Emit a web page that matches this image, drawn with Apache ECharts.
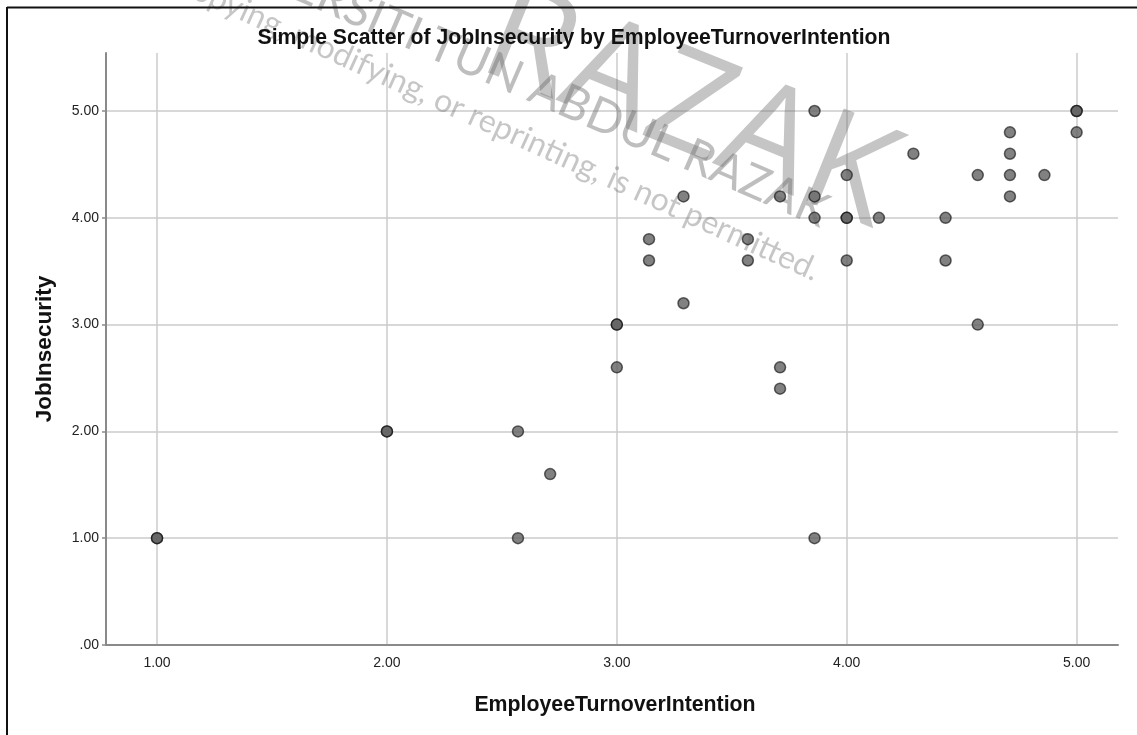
<!DOCTYPE html>
<html>
<head>
<meta charset="utf-8">
<script src="https://cdn.jsdelivr.net/npm/echarts@6/dist/echarts.min.js"></script>
<style>
  html, body { margin: 0; padding: 0; background: #ffffff; }
  #chart { width: 1137px; height: 735px; }
</style>
</head>
<body>
<div id="chart"></div>
<script>
// Scale means per respondent (x: 7-item scale, y: 5-item scale)
const turnoverIntention = [
  1.00, 1.00, 2.00, 2.00, 2.57, 2.57, 2.71, 3.00, 3.00, 3.00,
  3.14, 3.14, 3.29, 3.29, 3.57, 3.57, 3.71, 3.71, 3.71,
  3.86, 3.86, 3.86, 3.86, 4.00, 4.00, 4.00, 4.00, 4.14, 4.29,
  4.43, 4.43, 4.57, 4.57, 4.71, 4.71, 4.71, 4.71, 4.86,
  5.00, 5.00, 5.00
];
const jobInsecurity = [
  1.00, 1.00, 2.00, 2.00, 2.00, 1.00, 1.60, 3.00, 3.00, 2.60,
  3.80, 3.60, 4.20, 3.20, 3.80, 3.60, 4.20, 2.60, 2.40,
  5.00, 4.20, 4.00, 1.00, 4.40, 4.00, 4.00, 3.60, 4.00, 4.60,
  4.00, 3.60, 4.40, 3.00, 4.80, 4.60, 4.40, 4.20, 4.40,
  5.00, 5.00, 4.80
];
const xTickValues = [1, 2, 3, 4, 5];
const yTickValues = [0, 1, 2, 3, 4, 5];

const chartTitle = 'Simple Scatter of JobInsecurity by EmployeeTurnoverIntention';
const xName = 'EmployeeTurnoverIntention';
const yName = 'JobInsecurity';

const fmt = v => (v === 0 ? '.00' : v.toFixed(2));
const points = turnoverIntention.map((x, i) => [x, jobInsecurity[i]]);

const FONT = 'Arial, "Liberation Sans", sans-serif';
const axisGrey = '#8a8a8a';
const gridGrey = '#cbcbcb';
const deg = d => d * Math.PI / 180;

const chart = echarts.init(document.getElementById('chart'), null, { renderer: 'canvas' });

chart.setOption({
  backgroundColor: '#ffffff',
  animation: false,
  title: {
    text: chartTitle,
    left: 569,
    top: 23,
    textAlign: 'center',
    textStyle: { fontFamily: FONT, fontSize: 21.2, fontWeight: 'bold', color: '#111' }
  },
  grid: { left: 106, right: 19, top: 53, bottom: 90, containLabel: false, outerBoundsMode: 'none' },
  xAxis: {
    type: 'value',
    min: 0.778,
    max: 5.18,
    name: xName,
    nameLocation: 'middle',
    nameGap: 50,
    nameTextStyle: { fontFamily: FONT, fontSize: 21.3, fontWeight: 'bold', color: '#111', padding: [0, 0, 0, 6] },
    axisLine: { show: true, onZero: false, lineStyle: { color: axisGrey, width: 2 } },
    axisTick: { show: false, customValues: xTickValues },
    axisLabel: {
      customValues: xTickValues,
      formatter: fmt,
      margin: 11,
      fontFamily: FONT, fontSize: 14, color: '#222'
    },
    splitLine: { show: true, lineStyle: { color: gridGrey, width: 1.5 } }
  },
  yAxis: {
    type: 'value',
    min: 0,
    max: 5.543,
    name: yName,
    nameLocation: 'middle',
    nameGap: 50,
    nameTextStyle: { fontFamily: FONT, fontSize: 22.5, fontWeight: 'bold', color: '#111' },
    axisLine: { show: true, onZero: false, lineStyle: { color: axisGrey, width: 2 } },
    axisTick: { show: true, inside: false, length: 4, customValues: yTickValues, lineStyle: { color: axisGrey, width: 1.5 } },
    axisLabel: {
      customValues: yTickValues,
      formatter: fmt,
      margin: 7,
      fontFamily: FONT, fontSize: 14, color: '#222'
    },
    splitLine: { show: true, lineStyle: { color: gridGrey, width: 1.5 } }
  },
  series: [{
    type: 'scatter',
    data: points,
    symbol: 'circle',
    symbolSize: 11,
    z: 5,
    itemStyle: { color: '#626262', borderColor: 'rgba(0,0,0,0.72)', borderWidth: 1.5 }
  }],
  graphic: [
    // faint institutional watermark
    {
      type: 'text', z: 1, silent: true,
      x: 862, y: 256, rotation: deg(-22),
      style: { text: 'RAZAK', font: '140px "Open Sans", Arial, sans-serif', fill: 'rgba(110,110,110,0.40)', align: 'right', verticalAlign: 'bottom' }
    },
    {
      type: 'text', z: 1, silent: true,
      x: 826, y: 214, rotation: deg(-23.5),
      style: { text: 'UNIVERSITI TUN ABDUL RAZAK', font: '47px Lato, Arial, sans-serif', fill: 'rgba(110,110,110,0.45)', align: 'right', verticalAlign: 'middle' }
    },
    {
      type: 'text', z: 1, silent: true,
      x: 818, y: 272, rotation: deg(-24.5),
      style: { text: 'copying, modifying, or reprinting, is not permitted.', font: '32px Lato, Arial, sans-serif', fill: 'rgba(120,120,120,0.42)', align: 'right', verticalAlign: 'middle' }
    },
    // frame edges
    { type: 'line', z: 10, silent: true, shape: { x1: 7, y1: 7.5, x2: 1137, y2: 7.5 }, style: { stroke: '#111', lineWidth: 2 } },
    { type: 'line', z: 10, silent: true, shape: { x1: 7, y1: 7, x2: 7, y2: 735 }, style: { stroke: '#111', lineWidth: 2 } }
  ]
});
</script>
</body>
</html>
